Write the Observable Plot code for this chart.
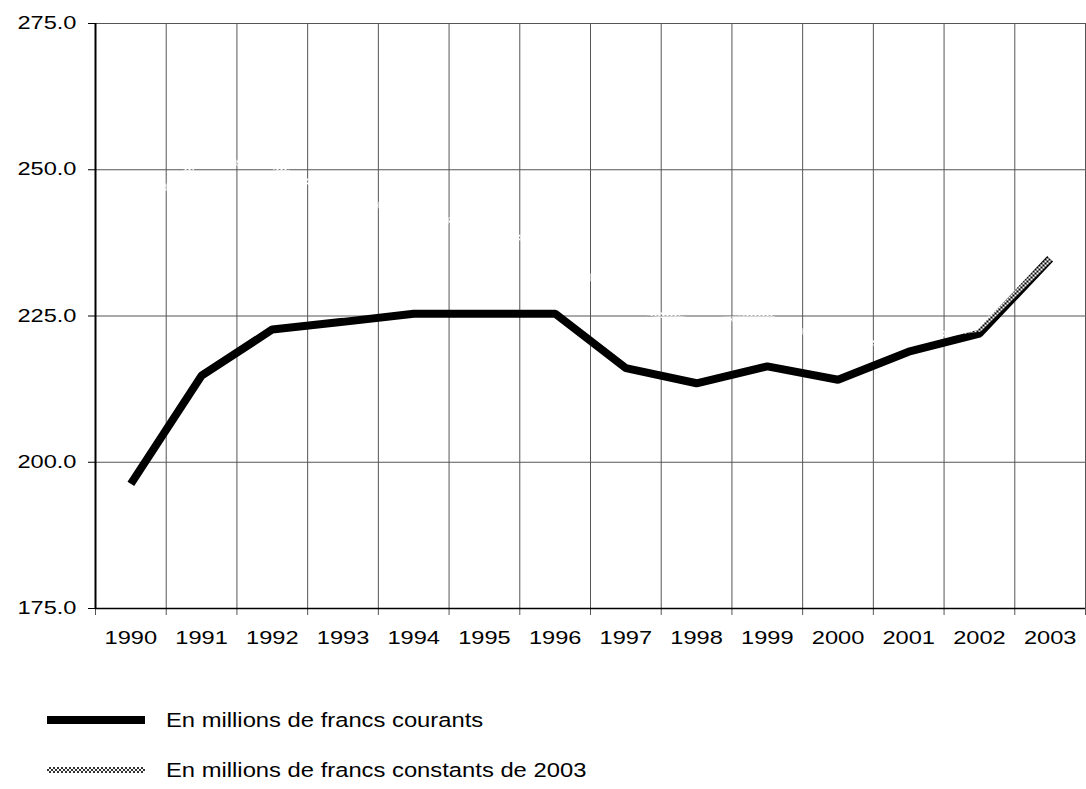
<!DOCTYPE html>
<html><head><meta charset="utf-8">
<script src="https://cdn.jsdelivr.net/npm/d3@7"></script>
<script src="https://cdn.jsdelivr.net/npm/@observablehq/plot@0.6"></script>
<style>
body{margin:0;background:#fff;}
#wrap{position:relative;width:1086px;height:789px;overflow:hidden;font-family:"Liberation Sans",Arial,sans-serif;color:#000;}
#chart{position:absolute;left:0;top:0;}
.sw{position:absolute;left:47px;}
.lt{position:absolute;left:166px;font-size:20.5px;transform:scaleX(1.16);transform-origin:0 50%;white-space:nowrap;line-height:24px;height:24px;}
</style></head><body>
<div id="wrap"><div id="chart"></div></div>
<script>
const years = [1990,1991,1992,1993,1994,1995,1996,1997,1998,1999,2000,2001,2002,2003];
const courants = [196.3,214.8,222.7,224.0,225.4,225.4,225.4,216.1,213.5,216.4,214.1,218.9,222.0,234.8];
const constants = [242.3,251.7,250.7,245.3,242.6,240.0,236.8,226.4,224.0,224.9,219.8,221.2,222.8,234.8];
const yTicks = [175,200,225,250,275];
const seriesLabels = ["En millions de francs courants","En millions de francs constants de 2003"];

const SX = 1.35;
const rows = years.map((y,i)=>({year:y, courants:courants[i], constants:constants[i]}));
const bounds = d3.range(years[0]-0.5, years[years.length-1]+1, 1);

const plot = Plot.plot({
  width:1086, height:650, marginTop:23, marginBottom:42, marginLeft:95, marginRight:1,
  style:{fontFamily:"'Liberation Sans', Arial, sans-serif", fontSize:"17.5px", color:"#000", background:"#fff", overflow:"visible"},
  x:{type:"linear", domain:[years[0]-0.5, years[years.length-1]+0.5], label:null},
  y:{domain:[yTicks[0], yTicks[yTicks.length-1]], label:null},
  marks:[
    Plot.ruleY(yTicks.slice(1), {stroke:"#555", strokeWidth:1}),
    Plot.ruleX(bounds.slice(1), {stroke:"#555", strokeWidth:1}),
    Plot.axisY(yTicks, {tickFormat:d=>d.toFixed(1), tickSize:7, tickPadding:12, label:null, stroke:"#000"}),
    Plot.axisX(years, {tickFormat:d=>String(d), tickSize:0, tickPadding:23, label:null}),
    Plot.axisX(bounds, {tickFormat:()=>"", tickSize:7, tickPadding:0, label:null, stroke:"#555"}),
    Plot.ruleX([bounds[0]], {stroke:"#000", strokeWidth:2}),
    Plot.ruleY([yTicks[0]], {stroke:"#000", strokeWidth:1.5}),
    Plot.line(rows, {x:"year", y:"courants", stroke:"#000", strokeWidth:8, strokeLinejoin:"miter", strokeLinecap:"butt"}),
    Plot.line(rows, {x:"year", y:"constants", stroke:"white", strokeWidth:6, strokeLinejoin:"miter", strokeLinecap:"butt"})
  ]
});

const svg = d3.select(plot);
const defs = svg.insert("defs", ":first-child");
const pat = defs.append("pattern").attr("id","chk").attr("width",4).attr("height",4).attr("patternUnits","userSpaceOnUse");
pat.append("rect").attr("width",2).attr("height",2).attr("fill","#fff");
pat.append("rect").attr("x",2).attr("y",2).attr("width",2).attr("height",2).attr("fill","#fff");
const lineGroups = svg.selectAll('g[aria-label="line"]').nodes();
d3.select(lineGroups[lineGroups.length-1]).selectAll("path").attr("stroke","url(#chk)");

svg.selectAll("text").each(function(){
  const t = d3.select(this);
  const x = +t.attr("x") || 0;
  const tr = t.attr("transform") || "";
  t.attr("transform", `${tr} translate(${x},0) scale(${SX},1) translate(${-x},0)`);
});

document.getElementById("chart").appendChild(plot);

// legend
const wrap = document.getElementById("wrap");
const legTops = [720, 770];
seriesLabels.forEach((lab,i)=>{
  const sw = document.createElementNS("http://www.w3.org/2000/svg","svg");
  sw.setAttribute("class","sw");
  sw.setAttribute("width","98"); sw.setAttribute("height","10");
  sw.style.top = (legTops[i]-5)+"px";
  if(i===0){
    sw.innerHTML = '<rect x="0" y="1" width="98" height="8" fill="#000"/>';
  } else {
    sw.innerHTML = '<defs><pattern id="chkl" width="4" height="4" patternUnits="userSpaceOnUse"><rect width="4" height="4" fill="#fff"/><rect width="2" height="2" fill="#333"/><rect x="2" y="2" width="2" height="2" fill="#333"/></pattern></defs><rect x="0" y="2" width="98" height="6" fill="url(#chkl)"/>';
  }
  wrap.appendChild(sw);
  const d = document.createElement("div");
  d.className = "lt";
  d.style.top = (legTops[i]-12)+"px";
  d.textContent = lab;
  wrap.appendChild(d);
});
</script>
</body></html>
